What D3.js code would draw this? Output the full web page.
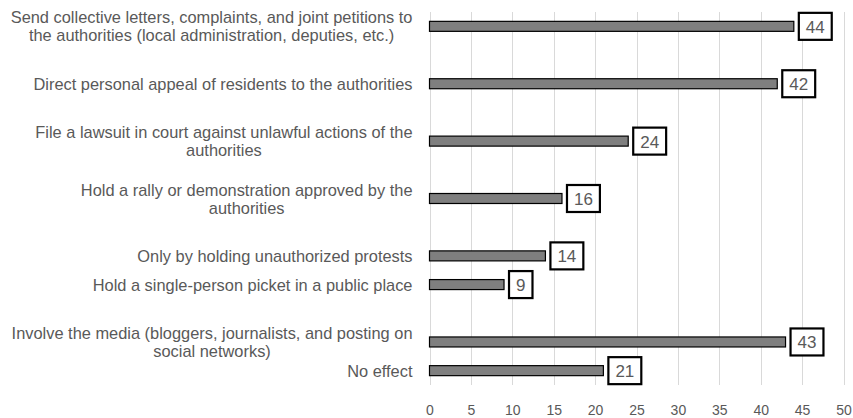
<!DOCTYPE html>
<html><head><meta charset="utf-8">
<script src="https://cdn.jsdelivr.net/npm/d3@7/dist/d3.min.js"></script>
<style>body{margin:0;background:#fff;}svg{display:block;}</style>
</head><body>
<svg id="chart" width="853" height="418"></svg>
<script>
// Category slots (empty strings are blank spacer rows in the original chart)
const categories = [
  ["Send collective letters, complaints, and joint petitions to", "the authorities (local administration, deputies, etc.)"],
  [""],
  ["Direct personal appeal of residents to the authorities"],
  [""],
  ["File a lawsuit in court against unlawful actions of the", "authorities"],
  [""],
  ["Hold a rally or demonstration approved by the", "authorities"],
  [""],
  ["Only by holding unauthorized protests"],
  ["Hold a single-person picket in a public place"],
  [""],
  ["Involve the media (bloggers, journalists, and posting on", "social networks)"],
  ["No effect"]
];
const values = [44, null, 42, null, 24, null, 16, null, 14, 9, null, 43, 21];
const xTicks = [0, 5, 10, 15, 20, 25, 30, 35, 40, 45, 50];

(function() {
const svg = d3.select("#chart");
const pLeft = 429.5, pRight = 843.5, pTop = 12, pBottom = 385;
const x = d3.scaleLinear().domain([0, 50]).range([pLeft, pRight]);
const y = d3.scaleBand().domain(d3.range(categories.length)).range([pTop, pBottom]);

// gridlines
svg.append("g").selectAll("line").data(xTicks).join("line")
  .attr("x1", d => Math.round(x(d)) + 0.5).attr("x2", d => Math.round(x(d)) + 0.5)
  .attr("y1", pTop).attr("y2", pBottom)
  .attr("stroke", "#d9d9d9").attr("stroke-width", 1);

// x axis tick labels
const xAxis = d3.axisBottom(x).tickValues(xTicks).tickSize(0).tickPadding(0);
const gx = svg.append("g").attr("transform", `translate(0,${pBottom})`).call(xAxis);
gx.select(".domain").remove();
gx.selectAll("text").attr("y", 30).attr("dy", 0)
  .attr("font-family", "Liberation Sans, Arial, sans-serif").attr("font-size", "14px").attr("fill", "#595959");

const barH = 10;
const data = values.map((v, i) => ({v, i})).filter(d => d.v !== null);

svg.append("g").selectAll("rect").data(data).join("rect")
  .attr("x", x(0)).attr("y", d => y(d.i) + y.bandwidth() / 2 - barH / 2)
  .attr("width", d => x(d.v) - x(0)).attr("height", barH)
  .attr("fill", "#7f7f7f").attr("stroke", "#000").attr("stroke-width", 1.2);

// data labels with boxes
const lg = svg.append("g").selectAll("g").data(data).join("g");
lg.each(function(d) {
  const g = d3.select(this);
  const cy = y(d.i) + y.bandwidth() / 2;
  const t = g.append("text").text(d.v)
    .attr("font-family", "Liberation Sans, Arial, sans-serif").attr("font-size", "17px")
    .attr("fill", "#595959").attr("text-anchor", "middle").attr("dominant-baseline", "central");
  const w = t.node().getComputedTextLength() + 14;
  const bx = x(d.v) + 5;
  g.insert("rect", "text").attr("x", bx).attr("y", cy - 13.5).attr("width", w).attr("height", 27)
    .attr("fill", "#fff").attr("stroke", "#000").attr("stroke-width", 2.2);
  t.attr("x", bx + w / 2).attr("y", cy + 1);
});

// category labels
const labelRight = 412.5, lineH = 18;
const cg = svg.append("g").selectAll("g").data(categories.map((c, i) => ({c, i})).filter(d => d.c[0] !== "")).join("g");
cg.each(function(d) {
  const g = d3.select(this);
  const cy = y(d.i) + y.bandwidth() / 2;
  const n = d.c.length;
  const texts = d.c.map((line, k) => g.append("text").text(line)
    .attr("font-family", "Liberation Sans, Arial, sans-serif").attr("font-size", "16.4px")
    .attr("fill", "#595959").attr("text-anchor", "middle").attr("dominant-baseline", "central")
    .attr("y", cy + (k - (n - 1) / 2) * lineH));
  const maxW = d3.max(texts, t => t.node().getComputedTextLength());
  texts.forEach(t => t.attr("x", labelRight - maxW / 2));
});
})();
</script>
</body></html>
